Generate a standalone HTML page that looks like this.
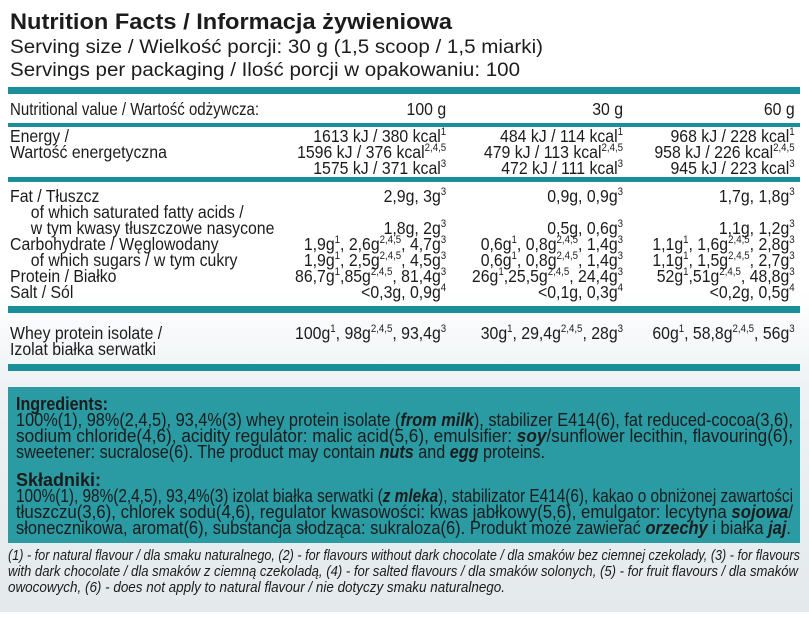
<!DOCTYPE html>
<html><head><meta charset="utf-8"><style>
html,body{margin:0;padding:0;background:#fff}
svg{display:block}
text{font-family:"Liberation Sans",sans-serif;fill:#1c1c1c}
</style></head><body>
<svg width="809" height="637" viewBox="0 0 809 637" xmlns="http://www.w3.org/2000/svg">
<defs>
<linearGradient id="bg" x1="0" y1="0" x2="0" y2="1">
<stop offset="0" stop-color="#ffffff"/>
<stop offset="0.3" stop-color="#eef2f4"/>
<stop offset="1" stop-color="#e4e9ec"/>
</linearGradient>
</defs>
<rect width="809" height="637" fill="#fff"/>
<rect x="0" y="290" width="809" height="322" fill="url(#bg)"/>
<text x="10" y="29" font-size="22" font-weight="bold" textLength="442" lengthAdjust="spacingAndGlyphs">Nutrition Facts / Informacja żywieniowa</text>
<text x="10" y="53" font-size="19" textLength="533" lengthAdjust="spacingAndGlyphs">Serving size / Wielkość porcji: 30 g (1,5 scoop / 1,5 miarki)</text>
<text x="10" y="76" font-size="19" textLength="510" lengthAdjust="spacingAndGlyphs">Servings per packaging / Ilość porcji w opakowaniu: 100</text>

<g fill="#1a8f99">
<rect x="8" y="87" width="792" height="7"/>
<rect x="8" y="123" width="792" height="4"/>
<rect x="8" y="177" width="792" height="5"/>
<rect x="8" y="306" width="792" height="7"/>
<rect x="8" y="364" width="792" height="7"/>
</g>
<rect x="8" y="387" width="792" height="156" fill="#2a9aa3"/>

<g transform="scale(0.88,1)" font-size="18">
<text x="11.4" y="115" textLength="283" lengthAdjust="spacingAndGlyphs">Nutritional value / Wartość odżywcza:</text>
<text x="507" y="115" text-anchor="end">100 g</text>
<text x="708" y="115" text-anchor="end">30 g</text>
<text x="903" y="115" text-anchor="end">60 g</text>

<text x="11.4" y="142">Energy /</text>
<text x="11.4" y="158">Wartość energetyczna</text>
<text x="507" y="142" text-anchor="end">1613 kJ / 380 kcal<tspan dy="-7" font-size="11">1</tspan></text>
<text x="507" y="158" text-anchor="end">1596 kJ / 376 kcal<tspan dy="-7" font-size="11">2,4,5</tspan></text>
<text x="507" y="174" text-anchor="end">1575 kJ / 371 kcal<tspan dy="-7" font-size="11">3</tspan></text>
<text x="708" y="142" text-anchor="end">484 kJ / 114 kcal<tspan dy="-7" font-size="11">1</tspan></text>
<text x="708" y="158" text-anchor="end">479 kJ / 113 kcal<tspan dy="-7" font-size="11">2,4,5</tspan></text>
<text x="708" y="174" text-anchor="end">472 kJ / 111 kcal<tspan dy="-7" font-size="11">3</tspan></text>
<text x="903" y="142" text-anchor="end">968 kJ / 228 kcal<tspan dy="-7" font-size="11">1</tspan></text>
<text x="903" y="158" text-anchor="end">958 kJ / 226 kcal<tspan dy="-7" font-size="11">2,4,5</tspan></text>
<text x="903" y="174" text-anchor="end">945 kJ / 223 kcal<tspan dy="-7" font-size="11">3</tspan></text>

<text x="11.4" y="202">Fat / Tłuszcz</text>
<text x="35" y="218">of which saturated fatty acids /</text>
<text x="35" y="234">w tym kwasy tłuszczowe nasycone</text>
<text x="11.4" y="250">Carbohydrate / Węglowodany</text>
<text x="35" y="266">of which sugars / w tym cukry</text>
<text x="11.4" y="282">Protein / Białko</text>
<text x="11.4" y="298">Salt / Sól</text>

<text x="507" y="202" text-anchor="end">2,9g, 3g<tspan dy="-7" font-size="11">3</tspan></text>
<text x="507" y="234" text-anchor="end">1,8g, 2g<tspan dy="-7" font-size="11">3</tspan></text>
<text x="507" y="250" text-anchor="end">1,9g<tspan dy="-7" font-size="11">1</tspan><tspan dy="7">, 2,6g</tspan><tspan dy="-7" font-size="11">2,4,5</tspan><tspan dy="7">, 4,7g</tspan><tspan dy="-7" font-size="11">3</tspan></text>
<text x="507" y="266" text-anchor="end">1,9g<tspan dy="-7" font-size="11">1</tspan><tspan dy="7">, 2,5g</tspan><tspan dy="-7" font-size="11">2,4,5</tspan><tspan dy="7">, 4,5g</tspan><tspan dy="-7" font-size="11">3</tspan></text>
<text x="507" y="282" text-anchor="end">86,7g<tspan dy="-7" font-size="11">1</tspan><tspan dy="7">,85g</tspan><tspan dy="-7" font-size="11">2,4,5</tspan><tspan dy="7">, 81,4g</tspan><tspan dy="-7" font-size="11">3</tspan></text>
<text x="507" y="298" text-anchor="end">&lt;0,3g, 0,9g<tspan dy="-7" font-size="11">4</tspan></text>

<text x="708" y="202" text-anchor="end">0,9g, 0,9g<tspan dy="-7" font-size="11">3</tspan></text>
<text x="708" y="234" text-anchor="end">0,5g, 0,6g<tspan dy="-7" font-size="11">3</tspan></text>
<text x="708" y="250" text-anchor="end">0,6g<tspan dy="-7" font-size="11">1</tspan><tspan dy="7">, 0,8g</tspan><tspan dy="-7" font-size="11">2,4,5</tspan><tspan dy="7">, 1,4g</tspan><tspan dy="-7" font-size="11">3</tspan></text>
<text x="708" y="266" text-anchor="end">0,6g<tspan dy="-7" font-size="11">1</tspan><tspan dy="7">, 0,8g</tspan><tspan dy="-7" font-size="11">2,4,5</tspan><tspan dy="7">, 1,4g</tspan><tspan dy="-7" font-size="11">3</tspan></text>
<text x="708" y="282" text-anchor="end">26g<tspan dy="-7" font-size="11">1</tspan><tspan dy="7">,25,5g</tspan><tspan dy="-7" font-size="11">2,4,5</tspan><tspan dy="7">, 24,4g</tspan><tspan dy="-7" font-size="11">3</tspan></text>
<text x="708" y="298" text-anchor="end">&lt;0,1g, 0,3g<tspan dy="-7" font-size="11">4</tspan></text>

<text x="903" y="202" text-anchor="end">1,7g, 1,8g<tspan dy="-7" font-size="11">3</tspan></text>
<text x="903" y="234" text-anchor="end">1,1g, 1,2g<tspan dy="-7" font-size="11">3</tspan></text>
<text x="903" y="250" text-anchor="end">1,1g<tspan dy="-7" font-size="11">1</tspan><tspan dy="7">, 1,6g</tspan><tspan dy="-7" font-size="11">2,4,5</tspan><tspan dy="7">, 2,8g</tspan><tspan dy="-7" font-size="11">3</tspan></text>
<text x="903" y="266" text-anchor="end">1,1g<tspan dy="-7" font-size="11">1</tspan><tspan dy="7">, 1,5g</tspan><tspan dy="-7" font-size="11">2,4,5</tspan><tspan dy="7">, 2,7g</tspan><tspan dy="-7" font-size="11">3</tspan></text>
<text x="903" y="282" text-anchor="end">52g<tspan dy="-7" font-size="11">1</tspan><tspan dy="7">,51g</tspan><tspan dy="-7" font-size="11">2,4,5</tspan><tspan dy="7">, 48,8g</tspan><tspan dy="-7" font-size="11">3</tspan></text>
<text x="903" y="298" text-anchor="end">&lt;0,2g, 0,5g<tspan dy="-7" font-size="11">4</tspan></text>

<text x="11.4" y="339">Whey protein isolate /</text>
<text x="11.4" y="355">Izolat białka serwatki</text>
<text x="507" y="339" text-anchor="end">100g<tspan dy="-7" font-size="11">1</tspan><tspan dy="7">, 98g</tspan><tspan dy="-7" font-size="11">2,4,5</tspan><tspan dy="7">, 93,4g</tspan><tspan dy="-7" font-size="11">3</tspan></text>
<text x="708" y="339" text-anchor="end">30g<tspan dy="-7" font-size="11">1</tspan><tspan dy="7">, 29,4g</tspan><tspan dy="-7" font-size="11">2,4,5</tspan><tspan dy="7">, 28g</tspan><tspan dy="-7" font-size="11">3</tspan></text>
<text x="903" y="339" text-anchor="end">60g<tspan dy="-7" font-size="11">1</tspan><tspan dy="7">, 58,8g</tspan><tspan dy="-7" font-size="11">2,4,5</tspan><tspan dy="7">, 56g</tspan><tspan dy="-7" font-size="11">3</tspan></text>
</g>

<g font-size="18">
<text x="16" y="410" font-weight="bold" textLength="92" lengthAdjust="spacingAndGlyphs">Ingredients:</text>
<text x="16" y="426" textLength="777" lengthAdjust="spacingAndGlyphs">100%(1), 98%(2,4,5), 93,4%(3) whey protein isolate (<tspan font-weight="bold" font-style="italic">from milk</tspan>), stabilizer E414(6), fat reduced-cocoa(3,6),</text>
<text x="16" y="442" textLength="777" lengthAdjust="spacingAndGlyphs">sodium  chloride(4,6),  acidity  regulator:  malic  acid(5,6),  emulsifier:  <tspan font-weight="bold" font-style="italic">soy</tspan>/sunflower  lecithin,  flavouring(6),</text>
<text x="16" y="458" textLength="529" lengthAdjust="spacingAndGlyphs">sweetener: sucralose(6). The product may contain <tspan font-weight="bold" font-style="italic">nuts</tspan> and <tspan font-weight="bold" font-style="italic">egg</tspan> proteins.</text>
<text x="16" y="486" font-weight="bold" textLength="85" lengthAdjust="spacingAndGlyphs">Składniki:</text>
<text x="16" y="502" textLength="777" lengthAdjust="spacingAndGlyphs">100%(1), 98%(2,4,5), 93,4%(3) izolat białka serwatki (<tspan font-weight="bold" font-style="italic">z mleka</tspan>), stabilizator E414(6), kakao o obniżonej zawartości</text>
<text x="16" y="518" textLength="777" lengthAdjust="spacingAndGlyphs">tłuszczu(3,6),  chlorek  sodu(4,6),  regulator  kwasowości:  kwas  jabłkowy(5,6),  emulgator:  lecytyna  <tspan font-weight="bold" font-style="italic">sojowa</tspan>/</text>
<text x="16" y="534" textLength="775" lengthAdjust="spacingAndGlyphs">słonecznikowa, aromat(6), substancja słodząca: sukraloza(6). Produkt może zawierać <tspan font-weight="bold" font-style="italic">orzechy</tspan> i białka <tspan font-weight="bold" font-style="italic">jaj</tspan>.</text>
</g>

<g font-size="15" font-style="italic">
<text x="8" y="560" textLength="792" lengthAdjust="spacingAndGlyphs">(1) - for natural flavour / dla smaku naturalnego, (2) - for flavours without dark chocolate / dla smaków bez ciemnej czekolady, (3) - for flavours</text>
<text x="8" y="576" textLength="790" lengthAdjust="spacingAndGlyphs">with dark chocolate / dla smaków z ciemną czekoladą, (4) - for salted flavours / dla smaków solonych, (5) - for fruit flavours / dla smaków</text>
<text x="8" y="592" textLength="497" lengthAdjust="spacingAndGlyphs">owocowych, (6) - does not apply to natural flavour / nie dotyczy smaku naturalnego.</text>
</g>
</svg>
</body></html>
